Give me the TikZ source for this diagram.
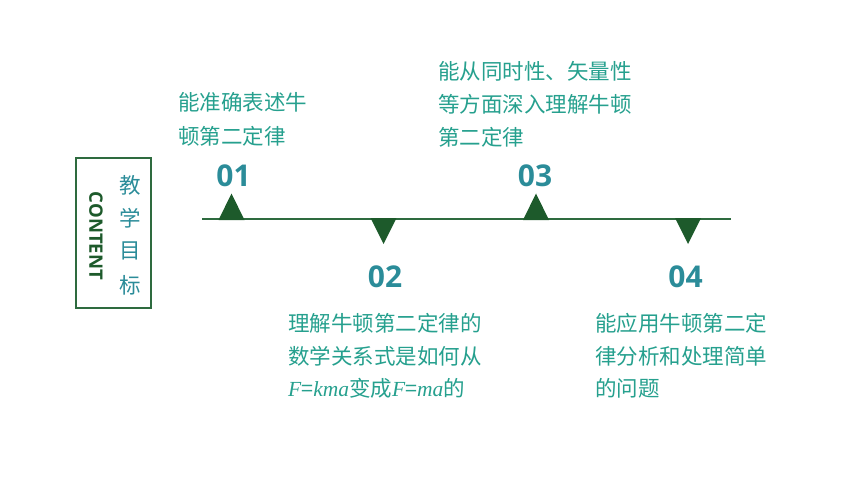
\documentclass[tikz,border=0pt]{standalone}
\usepackage{fontspec}
\setmainfont{Noto Sans CJK SC}
\newfontfamily\tms{Liberation Serif}
\newfontfamily\osans{Open Sans}
\definecolor{txtc}{HTML}{26A08E}
\definecolor{numc}{HTML}{2B8C99}
\definecolor{dkg}{HTML}{1D5A2B}
\definecolor{boxg}{HTML}{2E6B3F}
\begin{document}
\begin{tikzpicture}[x=1pt,y=-1pt,
  line/.style={anchor=base west,inner sep=0pt,text=txtc,font=\fontsize{21.5}{24}\selectfont},
  num/.style={anchor=base,inner sep=0pt,text=numc,font=\osans\bfseries\fontsize{30}{32}\selectfont},
  vch/.style={inner sep=0pt,text=numc,font=\fontsize{21.5}{24}\selectfont},
  tri/.style={fill=dkg,draw=none}]
\useasboundingbox (0,0) rectangle (860,484);
% box
\node (box) [draw=boxg,line width=2pt,minimum width=75pt,minimum height=150pt,inner sep=0pt] at (113.5,233) {};
\node (content) [rotate=-90,inner sep=0pt,text=dkg,font=\osans\bfseries\fontsize{18.5}{20}\selectfont] at (96,236) {CONTENT};
\node (c1) [vch] at (130,185) {教};
\node (c2) [vch] at (130,218) {学};
\node (c3) [vch] at (130,251) {目};
\node (c4) [vch] at (130,285) {标};
% timeline
\coordinate (ls) at (202,219);
\coordinate (le) at (731,219);
\draw[boxg,line width=2pt] (ls) -- (le);
\fill[tri] (218.5,220) -- (231.5,193.5) -- (244.5,220) -- cycle;
\fill[tri] (370.5,218) -- (383.5,244) -- (396.5,218) -- cycle;
\fill[tri] (523,220) -- (536,193.5) -- (549,220) -- cycle;
\fill[tri] (675,218) -- (688,244) -- (701,218) -- cycle;
% numbers
\node (n1) [num] at (233.5,187) {01};
\node (n2) [num] at (385,287) {02};
\node (n3) [num] at (535,186) {03};
\node (n4) [num] at (685.5,287) {04};
% text blocks
\node (a1) [line] at (178,110.5) {能准确表述牛};
\node (a2) [line] at (178,145) {顿第二定律};
\node (b1) [line] at (438,80) {能从同时性、矢量性};
\node (b2) [line] at (438,113) {等方面深入理解牛顿};
\node (b3) [line] at (438,145.5) {第二定律};
\node (d1) [line] at (288,331) {理解牛顿第二定律的};
\node (d2) [line] at (288,364.5) {数学关系式是如何从};
\node (d3) [line] at (288,396.5) {{\tms\itshape F}={\tms\itshape kma}变成{\tms\itshape F}={\tms\itshape ma}的};
\node (e1) [line] at (595,331) {能应用牛顿第二定};
\node (e2) [line] at (595,364.5) {律分析和处理简单};
\node (e3) [line] at (595,396.5) {的问题};
\end{tikzpicture}
\end{document}
